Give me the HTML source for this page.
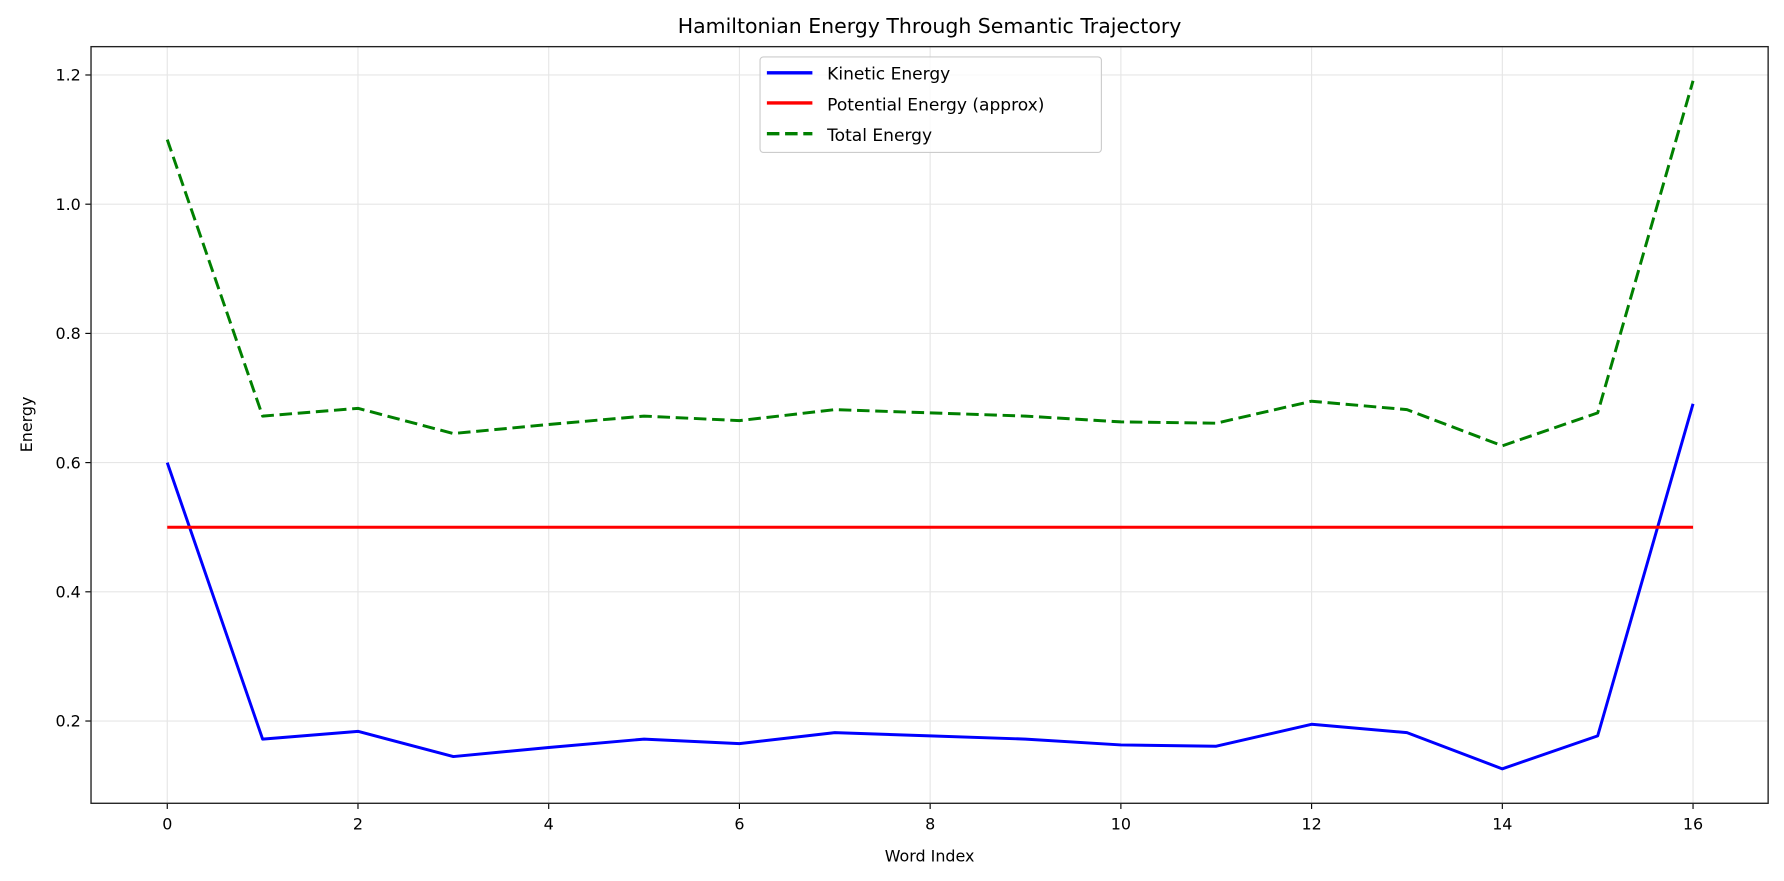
<!DOCTYPE html>
<html><head><meta charset="utf-8"><style>
body{margin:0;background:#fff;}
svg{display:block;font-family:"DejaVu Sans","Liberation Sans",sans-serif;}
</style></head><body>
<svg width="1784" height="881">
<g transform="scale(1.1378)">
<text x="817" y="29" font-size="18" text-anchor="middle">Hamiltonian Energy Through Semantic Trajectory</text>
<g id="grid"></g><g id="axes"></g><g id="series"></g>
<text x="817" y="757" font-size="14" text-anchor="middle">Word Index</text>
<text transform="translate(28,373) rotate(-90)" font-size="14" text-anchor="middle">Energy</text>
<g>
<rect x="668" y="50" width="300" height="84" rx="3" fill="#fff" fill-opacity="0.8" stroke="#ccc"/>
<line x1="674" y1="64" x2="714" y2="64" stroke="#0000ff" stroke-width="3"/>
<text x="727" y="70" font-size="15">Kinetic Energy</text>
<line x1="674" y1="90.5" x2="714" y2="90.5" stroke="#ff0000" stroke-width="3"/>
<text x="727" y="97" font-size="15">Potential Energy (approx)</text>
<line x1="674" y1="117.5" x2="714" y2="117.5" stroke="#008000" stroke-width="3" stroke-dasharray="11,5"/>
<text x="727" y="124" font-size="15">Total Energy</text>
</g>
</g>
</svg>
<script>
const xIdx=[0,1,2,3,4,5,6,7,8,9,10,11,12,13,14,15,16];
const kinetic=[0.600,0.172,0.184,0.145,0.159,0.172,0.165,0.182,0.177,0.172,0.163,0.161,0.195,0.182,0.126,0.177,0.691];
const potential=[0.5,0.5,0.5,0.5,0.5,0.5,0.5,0.5,0.5,0.5,0.5,0.5,0.5,0.5,0.5,0.5,0.5];
const total=[1.100,0.672,0.684,0.645,0.659,0.672,0.665,0.682,0.677,0.672,0.663,0.661,0.695,0.682,0.626,0.677,1.191];
const xTicks=[0,2,4,6,8,10,12,14,16];
const yTicks=[0.2,0.4,0.6,0.8,1.0,1.2];
const L=80,R=1554,T=41,B=706;
const X=v=>147+v*(1488-147)/16;
const Y=v=>633.7-(v-0.2)*567.8;
const NS="http://www.w3.org/2000/svg";
function mk(tag,attrs,parent){const e=document.createElementNS(NS,tag);for(const k in attrs)e.setAttribute(k,attrs[k]);document.getElementById(parent).appendChild(e);return e;}
xTicks.forEach(t=>{
 const g=mk('line',{x1:X(t),x2:X(t),y1:T,y2:B,stroke:'#e6e6e6','stroke-width':1},'grid');
 
 
 const tk=mk('line',{x1:X(t),x2:X(t),y1:B,y2:B+5,stroke:'#000'},'axes');
 
 
 const tx=mk('text',{x:X(t),y:B+23,'font-size':14,'text-anchor':'middle'},'axes');
 tx.textContent=t;
 
 
});
yTicks.forEach(t=>{
 const g=mk('line',{x1:L,x2:R,y1:Y(t),y2:Y(t),stroke:'#e6e6e6','stroke-width':1},'grid');
 
 
 const tk=mk('line',{x1:L-5,x2:L,y1:Y(t),y2:Y(t),stroke:'#000'},'axes');
 
 
 const tx=mk('text',{x:L-9,y:Y(t)+5,'font-size':14,'text-anchor':'end'},'axes');
 tx.textContent=t.toFixed(1);
 
 
});
const fr=mk('rect',{x:L,y:T,width:R-L,height:B-T,fill:'none',stroke:'#222','stroke-width':1.2},'axes');


function line(vals,color,dash,name){
 const p=mk('polyline',{points:vals.map((v,i)=>X(xIdx[i])+','+Y(v)).join(' '),fill:'none',stroke:color,'stroke-width':2.6,'stroke-linejoin':'round'},'series');
 if(dash)p.setAttribute('stroke-dasharray',dash);
 
 
}
line(kinetic,'#0000ff',null,'kinetic-energy-line');
line(potential,'#ff0000',null,'potential-energy-line');
line(total,'#008000','11,5','total-energy-line');
</script>
</body></html>
